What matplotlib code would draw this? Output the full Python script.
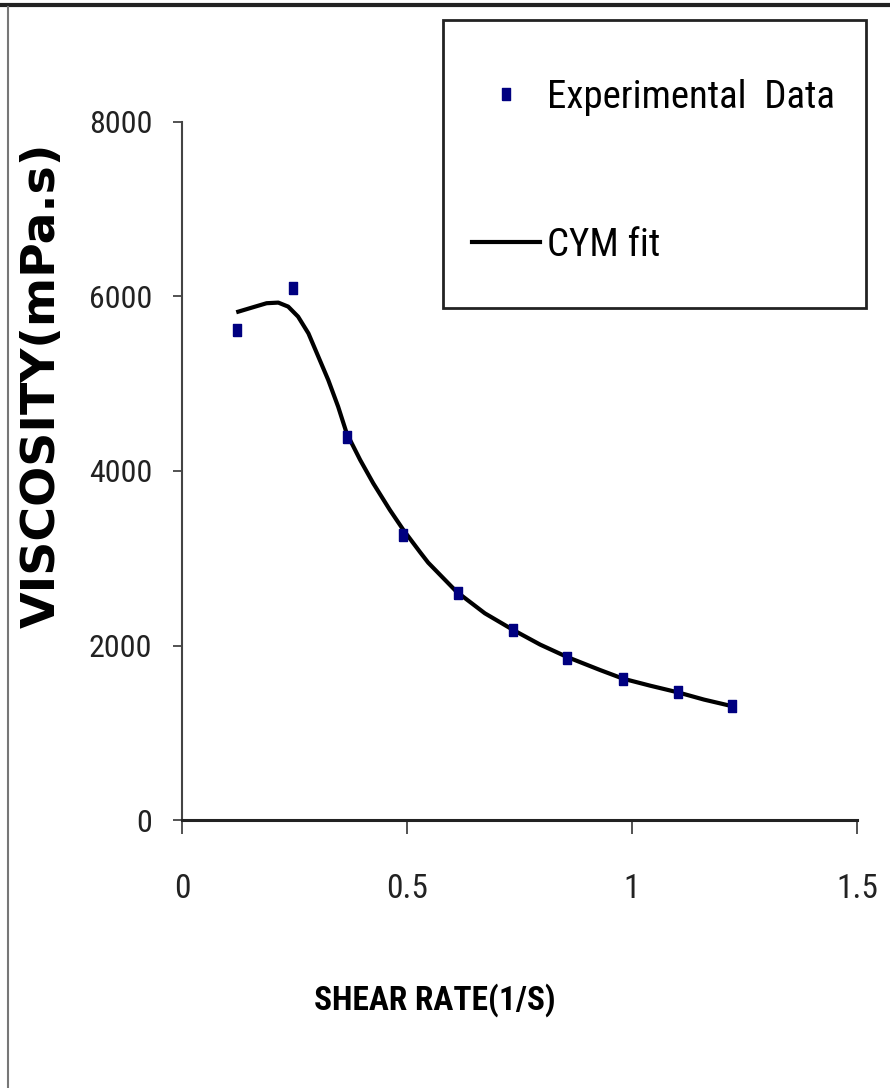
import matplotlib.pyplot as plt
from matplotlib.lines import Line2D
from matplotlib.patches import Rectangle

# experimental points
shear_rate = [0.122, 0.247, 0.367, 0.491, 0.613, 0.736, 0.856, 0.98, 1.102, 1.222]
viscosity = [5616, 6097, 4393, 3270, 2602, 2172, 1857, 1620, 1466, 1306]

# CYM fit curve
fit_x = [0.125, 0.158, 0.188, 0.214, 0.236, 0.258, 0.281, 0.303, 0.325, 0.347,
         0.366, 0.396, 0.425, 0.462, 0.492, 0.529, 0.547, 0.610, 0.673, 0.736,
         0.796, 0.855, 0.929, 0.98, 1.04, 1.102, 1.16, 1.222]
fit_y = [5826, 5877, 5923, 5930, 5884, 5769, 5577, 5310, 5043, 4737,
         4432, 4126, 3859, 3553, 3324, 3070, 2950, 2617, 2369, 2178,
         2010, 1870, 1719, 1620, 1540, 1463, 1380, 1305]

x_ticks = [0, 0.5, 1, 1.5]
x_labels = ['0', '0.5', '1', '1.5']
y_ticks = [0, 2000, 4000, 6000, 8000]

narrow = ['Liberation Sans Narrow', 'Roboto Condensed', 'Liberation Sans', 'DejaVu Sans']

fig = plt.figure(figsize=(8.9, 10.88), dpi=100)
ax = fig.add_axes([182 / 890, 1 - 820 / 1088, 675 / 890, 698 / 1088])

rect_marker = [(-0.6, -1), (0.6, -1), (0.6, 1), (-0.6, 1), (-0.6, -1)]

ax.plot(fit_x, fit_y, color='black', lw=3, label='CYM fit', zorder=2,
        solid_joinstyle='round')
ax.plot(shear_rate, viscosity, ls='none', marker=rect_marker, markersize=9,
        color='#000080', mec='#000080', label='Experimental  Data', zorder=3)

ax.set_xlim(0, 1.5)
ax.set_ylim(0, 8000)
ax.set_xticks(x_ticks)
ax.set_xticklabels(x_labels)
ax.set_yticks(y_ticks)

for s in ['top', 'right']:
    ax.spines[s].set_visible(False)
ax.spines['left'].set_color('#444444')
ax.spines['left'].set_linewidth(1.5)
ax.spines['bottom'].set_color('#222222')
ax.spines['bottom'].set_linewidth(2.2)

ax.tick_params(axis='y', direction='out', length=6.5, width=1.3, color='#444444', pad=15)
ax.tick_params(axis='x', direction='out', length=10, width=1.3, color='#444444', pad=28)
for lab in ax.get_yticklabels():
    lab.set_family(narrow)
    lab.set_fontsize(23)
    lab.set_color('#222222')
for lab in ax.get_xticklabels():
    lab.set_family(narrow)
    lab.set_fontsize(24)
    lab.set_color('#222222')

fig.text(435 / 890, 1 - 1000 / 1088, 'SHEAR RATE(1/S)', family=narrow,
         fontweight='bold', fontsize=24, ha='center', va='center')
fig.text(42 / 890, 1 - 385 / 1088, 'VISCOSITY(mPa.s)', family=['DejaVu Sans'],
         fontweight='bold', fontsize=34, rotation=90, ha='center', va='center')

# legend box
fig.add_artist(Rectangle((443 / 890, 1 - 308 / 1088), 423 / 890, 288 / 1088,
                         transform=fig.transFigure, fill=False,
                         edgecolor='#222222', lw=2))
h, l = ax.get_legend_handles_labels()
leg = fig.legend(h[::-1], l[::-1], loc='upper left',
                 bbox_to_anchor=(472 / 890, 1 - 79 / 1088), frameon=False,
                 borderpad=0, borderaxespad=0, labelspacing=2.85,
                 handlelength=1.75, handletextpad=0.18,
                 prop={'family': narrow, 'size': 28})

# outer frame lines
fig.add_artist(Line2D([0, 1], [1 - 5 / 1088] * 2, transform=fig.transFigure,
                      color='#222222', lw=3))
fig.add_artist(Line2D([8 / 890] * 2, [0, 1 - 7 / 1088], transform=fig.transFigure,
                      color='#777777', lw=1.5))

fig.savefig('out.png', dpi=100)
